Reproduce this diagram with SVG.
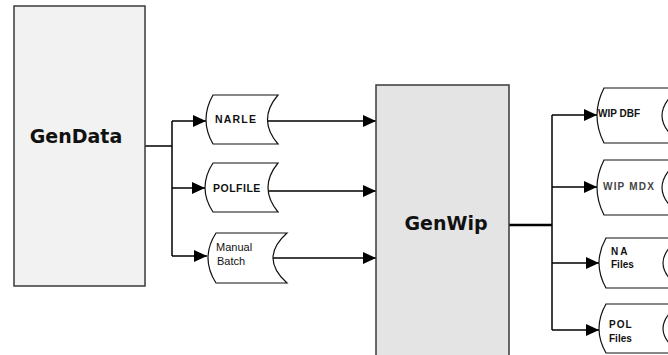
<svg xmlns="http://www.w3.org/2000/svg" width="668" height="355" viewBox="0 0 668 355">
<style>
.box{stroke:#3a3a3a;stroke-width:1.5}
.store{fill:#ffffff;stroke:#111;stroke-width:1.2}
.big{font-family:"DejaVu Sans",sans-serif;font-weight:bold;font-size:19px;fill:#111;text-anchor:middle}
.sm{font-family:"Liberation Sans",Arial,sans-serif;font-weight:bold;font-size:10.5px;fill:#111}
.rt{font-family:"Liberation Sans",Arial,sans-serif;font-weight:bold;font-size:10px;fill:#111}
.sm2{font-family:"Liberation Sans",Arial,sans-serif;font-size:11px;fill:#111}
.ln{fill:none;stroke:#000;stroke-width:1.5}
</style>
<defs>
<marker id="ah" viewBox="0 0 12 12" refX="12" refY="6" markerWidth="13" markerHeight="13" markerUnits="userSpaceOnUse" orient="auto">
<path d="M0,0.5 L12,6 L0,11.5 Z" fill="#000"/>
</marker>
</defs>
<rect width="668" height="355" fill="#fff"/>
<g id="connectors">
<path class="ln" d="M145,146 H172 M172,121 V256"/>
<path class="ln" d="M172,121 H206" marker-end="url(#ah)"/>
<path class="ln" d="M172,188 H205" marker-end="url(#ah)"/>
<path class="ln" d="M172,256 H207" marker-end="url(#ah)"/>
<path class="ln" d="M267,121 H376" marker-end="url(#ah)"/>
<path class="ln" d="M268,191 H376" marker-end="url(#ah)"/>
<path class="ln" d="M273,258 H376" marker-end="url(#ah)"/>
<path fill="none" stroke="#000" stroke-width="2.5" d="M509,225 H552"/>
<path class="ln" d="M552,115 V330"/>
<path class="ln" d="M552,115 H597" marker-end="url(#ah)"/>
<path class="ln" d="M552,187 H597" marker-end="url(#ah)"/>
<path class="ln" d="M552,263 H599" marker-end="url(#ah)"/>
<path class="ln" d="M552,330 H599" marker-end="url(#ah)"/>
</g>
<g id="gendata">
<rect class="box" x="14" y="6" width="131" height="280" fill="#f2f2f2"/>
<text class="big" x="76" y="143">GenData</text>
</g>
<g id="genwip">
<rect class="box" x="376" y="85" width="133" height="280" fill="#e4e4e4"/>
<text class="big" x="446" y="230">GenWip</text>
</g>
<g id="narle">
<path class="store" d="M213,95 L278,95 Q257,119.5 278,144 L213,144 Q199,119.5 213,95 Z"/>
<text class="sm" x="215" y="123" style="letter-spacing:1.2px">NARLE</text>
</g>
<g id="polfile">
<path class="store" d="M213,163 L278,163 Q258,187.5 278,212 L213,212 Q197,187.5 213,163 Z"/>
<text class="sm" x="213" y="192" style="letter-spacing:0.5px">POLFILE</text>
</g>
<g id="manualbatch">
<path class="store" d="M216,233 L287,233 Q259,258 287,283 L216,283 Q200,258 216,233 Z"/>
<text class="sm2" x="216" y="251">Manual</text>
<text class="sm2" x="217" y="265">Batch</text>
</g>
<g id="wipdbf">
<path class="store" d="M604,88 L680,88 Q644,115.5 680,143 L604,143 Q590,115.5 604,88 Z"/>
<text class="rt" x="598" y="117">WIP DBF</text>
</g>
<g id="wipmdx">
<path class="store" d="M604,160 L680,160 Q644,187.5 680,215 L604,215 Q590,187.5 604,160 Z"/>
<text class="rt" x="603" y="190" style="letter-spacing:1.2px;fill:#444">WIP MDX</text>
</g>
<g id="nafiles">
<path class="store" d="M606,238 L680,238 Q646,263 680,288 L606,288 Q592,263 606,238 Z"/>
<text class="rt" x="611" y="255" style="letter-spacing:2px">NA</text>
<text class="rt" x="611" y="268">Files</text>
</g>
<g id="polfiles">
<path class="store" d="M606,304 L680,304 Q646,328.5 680,353 L606,353 Q592,328.5 606,304 Z"/>
<text class="rt" x="609" y="328" style="letter-spacing:1px">POL</text>
<text class="rt" x="609" y="342">Files</text>
</g>
</svg>
